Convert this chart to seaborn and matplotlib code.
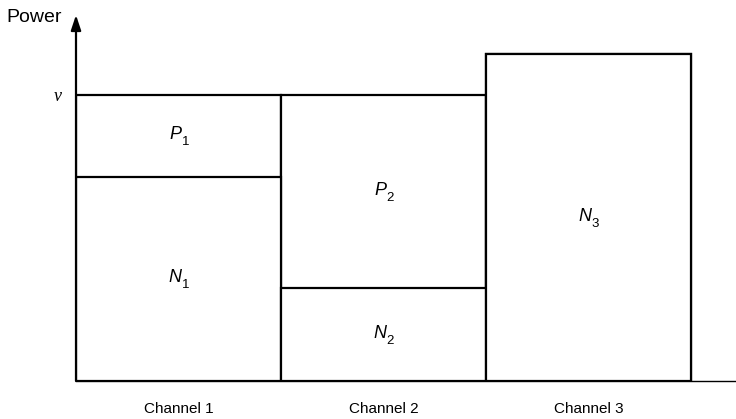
import numpy as np
import pandas as pd
import matplotlib
matplotlib.use('Agg')
import matplotlib.pyplot as plt
import seaborn as sns

# water-filling picture: noise level per channel and the water level nu
channels = ['Channel 1', 'Channel 2', 'Channel 3']
noise = [2.20, 1.00, 3.52]
water_level = 3.08
noise_subs = ['1', '2', '3']

power = [max(0.0, water_level - n) for n in noise]
total = [n + p for n, p in zip(noise, power)]

df = pd.DataFrame({'Channel': channels, 'Noise': noise, 'Total': total})

sns.set_style('white')
plt.rcParams['font.family'] = ['Liberation Sans', 'DejaVu Sans']
plt.rcParams['text.color'] = 'black'
plt.rcParams['xtick.color'] = 'black'
plt.rcParams['ytick.color'] = 'black'

fig = plt.figure(figsize=(7.36, 4.19), dpi=100)
ax = fig.add_axes([76 / 736, 38 / 419, 660 / 736, 366 / 419])

bar_kw = dict(color='white', edgecolor='black', linewidth=1.6, width=1.0, saturation=1)
sns.barplot(data=df, x='Channel', y='Total', ax=ax, **bar_kw)
sns.barplot(data=df, x='Channel', y='Noise', ax=ax, **bar_kw)

ymax = 3.94
ax.set_xlim(-0.5, -0.5 + 660 / 205)
ax.set_ylim(0, ymax)


def box_label(x, y, letter, sub):
    # italic letter with a large, low subscript
    ax.annotate(letter, xy=(x, y), xytext=(-2.5, 0.7), textcoords='offset points',
                ha='center', va='center', fontsize=13, style='italic')
    ax.annotate(sub, xy=(x, y), xytext=(2.2, -4.5), textcoords='offset points',
                ha='left', va='center', fontsize=9.5)


for i in range(len(channels)):
    box_label(i, noise[i] / 2, 'N', noise_subs[i])
    if power[i] > 0:
        box_label(i, noise[i] + power[i] / 2, 'P', noise_subs[i])

# axes
for s in ['top', 'right', 'left']:
    ax.spines[s].set_visible(False)
ax.spines['bottom'].set_linewidth(1.0)
ax.spines['bottom'].set_color('black')
ax.annotate('', xy=(-0.5, ymax), xytext=(-0.5, 0), xycoords='data',
            arrowprops=dict(arrowstyle='-|>,head_width=0.3,head_length=0.9',
                            color='black', lw=1.6, mutation_scale=10,
                            shrinkA=0, shrinkB=0),
            annotation_clip=False)
ax.annotate('Power', xy=(-0.5, ymax), xytext=(-10, -2), textcoords='offset points',
            ha='right', va='center', fontsize=14, annotation_clip=False)

ax.set_yticks([water_level])
ax.set_yticklabels(['ν'], family='Liberation Serif', style='italic', fontsize=13)
ax.tick_params(axis='y', length=0, pad=10)
ax.tick_params(axis='x', length=0, pad=15, labelsize=11)
ax.set_xlabel('')
ax.set_ylabel('')

fig.savefig('out.png', dpi=100)
